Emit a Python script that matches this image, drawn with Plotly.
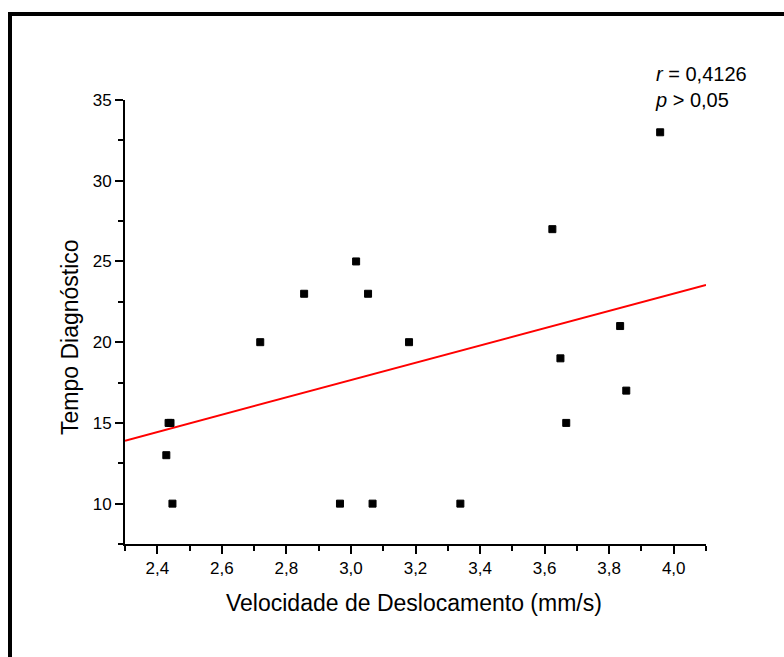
import plotly.graph_objects as go

# Scatter data: displacement velocity (mm/s) vs diagnostic time
velocidade = [2.435, 2.441, 2.428, 2.447, 2.719, 2.855, 2.966, 3.016, 3.053,
              3.067, 3.180, 3.339, 3.624, 3.649, 3.667, 3.834, 3.853, 3.958]
tempo = [15, 15, 13, 10, 20, 23, 10, 25, 23,
         10, 20, 10, 27, 19, 15, 21, 17, 33]

# Linear fit line endpoints
fit_x = [2.3, 4.1]
fit_y = [13.9, 23.55]

x_range = [2.3, 4.1]
y_range = [7.5, 35]

FONT = "Liberation Sans, Arial, sans-serif"

fig = go.Figure()

fig.add_trace(go.Scatter(
    x=fit_x, y=fit_y, mode="lines",
    line=dict(color="#ff0000", width=2),
    showlegend=False, hoverinfo="skip",
))

fig.add_trace(go.Scatter(
    x=velocidade, y=tempo, mode="markers",
    marker=dict(symbol="square", size=7, color="black",
                line=dict(color="black", width=1)),
    showlegend=False,
))

axis_common = dict(
    showline=True, linecolor="black", linewidth=2,
    ticks="outside", ticklen=8, tickwidth=1.5, tickcolor="black",
    showgrid=False, zeroline=False, mirror=False,
    tickfont=dict(family=FONT, size=17, color="black"),
)

fig.update_xaxes(
    range=x_range, tick0=2.4, dtick=0.2, tickformat=".1f",
    minor=dict(dtick=0.1, tick0=2.3, ticklen=5, tickwidth=1.5,
               tickcolor="black", ticks="outside", showgrid=False),
    **axis_common,
)
fig.update_yaxes(
    range=y_range, tick0=10, dtick=5,
    minor=dict(dtick=2.5, tick0=7.5, ticklen=5, tickwidth=1.5,
               tickcolor="black", ticks="outside", showgrid=False),
    **axis_common,
)

W, H = 784, 657
L, R, T, B = 125, 78, 100, 113
pw, ph = W - L - R, H - T - B


def px(xp):
    return (xp - L) / pw


def py(yp):
    return (H - B - yp) / ph


annotations = [
    dict(text="Velocidade de Deslocamento (mm/s)", x=px(414), y=py(588),
         xref="paper", yref="paper", xanchor="center", yanchor="top",
         showarrow=False, font=dict(family=FONT, size=23, color="black")),
    dict(text="Tempo Diagnóstico", x=px(70), y=py(337),
         xref="paper", yref="paper", xanchor="center", yanchor="middle",
         textangle=-90, showarrow=False,
         font=dict(family=FONT, size=23, color="black")),
    dict(text="<i>r</i> = 0,4126<br><i>p</i> > 0,05", x=px(653), y=py(61),
         xref="paper", yref="paper", xanchor="left", yanchor="top",
         align="left", showarrow=False,
         font=dict(family=FONT, size=20, color="black")),
]

# Outer frame (top and left edges)
shapes = [
    dict(type="line", xref="paper", yref="paper",
         x0=px(8), x1=px(800), y0=py(14), y1=py(14),
         line=dict(color="black", width=4)),
    dict(type="line", xref="paper", yref="paper",
         x0=px(10), x1=px(10), y0=py(12), y1=py(680),
         line=dict(color="black", width=4)),
]

fig.update_layout(
    width=W, height=H,
    margin=dict(l=L, r=R, t=T, b=B, pad=0),
    paper_bgcolor="white", plot_bgcolor="white",
    separators=",.",
    annotations=annotations, shapes=shapes,
    font=dict(family=FONT, color="black"),
)

fig.write_html("out.html")
